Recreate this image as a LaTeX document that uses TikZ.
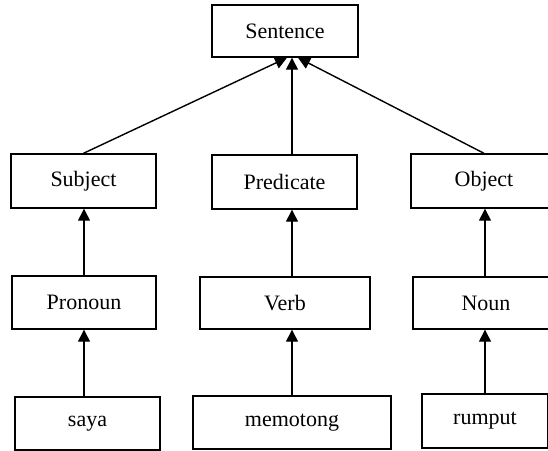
\documentclass[tikz,border=0pt]{standalone}
\usepackage{fontspec}
\setmainfont{Liberation Serif}
\usetikzlibrary{arrows.meta,positioning}

\begin{document}
\begin{tikzpicture}[
  x=0.5pt,y=-0.5pt,
  box/.style={draw,line width=0.7pt,inner sep=0pt,minimum height=26.5pt,font=\fontsize{11}{13}\selectfont},
  arr/.style={-{Triangle[length=6pt,width=6pt]},line width=0.7pt}]
  \useasboundingbox (0,0) rectangle (548,451);
  % top
  \node[box,minimum width=73pt,minimum height=26pt] (sentence) at (285,31) {Sentence};
  % parts of the sentence
  \node[box,minimum width=72.5pt,minimum height=27pt] (subject) at (83.5,181) {Subject};
  \node[box,minimum width=72.5pt,minimum height=27pt] (predicate) at (284.5,182) {Predicate};
  \node[box,minimum width=73pt,minimum height=27pt] (object) at (484,181) {Object};
  % word classes
  \node[box,minimum width=72pt] (pronoun) at (84,302.5) {Pronoun};
  \node[box,minimum width=85pt,minimum height=26pt] (verb) at (285,303) {Verb};
  \node[box,minimum width=73pt,minimum height=26pt] (noun) at (486,303) {Noun};
  % words
  \node[box,minimum width=72.5pt] (saya) at (87.5,423.5) {saya};
  \node[box,minimum width=99pt] (memotong) at (292,422.5) {memotong};
  \node[box,minimum width=63pt,minimum height=27pt] (rumput) at (485,421) {rumput};
  % left column
  \draw[arr] (pronoun.south |- saya.north) -- (pronoun.south);
  \draw[arr] (pronoun.north) -- (pronoun.north |- subject.south);
  % middle column
  \draw[arr] (memotong.north) -- (memotong.north |- verb.south);
  \draw[arr] (memotong.north |- verb.north) -- (memotong.north |- predicate.south);
  % right column
  \draw[arr] (rumput.north) -- (rumput.north |- noun.south);
  \draw[arr] (rumput.north |- noun.north) -- (rumput.north |- object.south);
  % into the sentence
  \draw[arr] (subject.north) -- ([xshift=1pt]sentence.south);
  \draw[arr] (memotong.north |- predicate.north) -- (memotong.north |- sentence.south);
  \draw[arr] (object.north) -- ([xshift=6.5pt]sentence.south);
\end{tikzpicture}
\end{document}
